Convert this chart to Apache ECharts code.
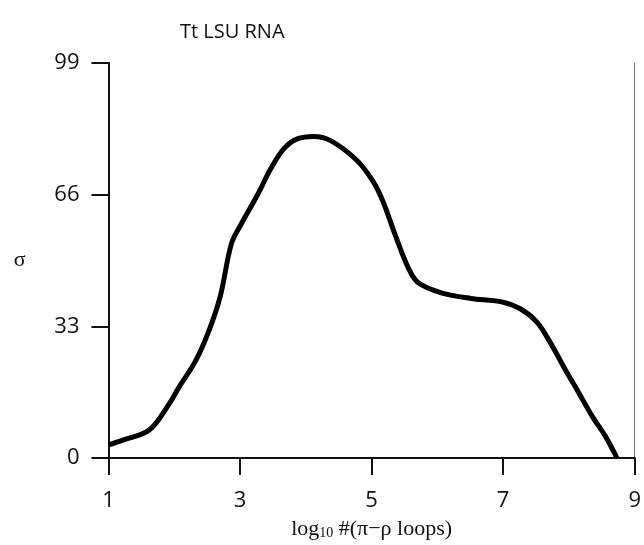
<!DOCTYPE html>
<html>
<head>
<meta charset="utf-8">
<script src="https://cdn.jsdelivr.net/npm/echarts@6/dist/echarts.min.js"></script>
<style>
  html, body { margin: 0; padding: 0; background: #fff; }
  #chart { width: 644px; height: 545px; }
</style>
</head>
<body>
<div id="chart"></div>
<script>
// log10 #(pi-rho loops) against sigma
var loopsLog = [1.0, 1.22, 1.62, 1.92, 2.07, 2.32, 2.52, 2.70, 2.87, 3.02, 3.27, 3.47, 3.67, 3.87, 4.12, 4.37, 4.77, 5.02, 5.17, 5.37, 5.56, 5.71, 6.06, 6.51, 6.96, 7.26, 7.51, 7.71, 7.96, 8.11, 8.36, 8.56, 8.73];
var sigma = [3.3, 4.5, 7.0, 13.5, 17.7, 24.2, 31.6, 40.6, 53.8, 58.7, 66.1, 72.6, 77.6, 80.0, 80.6, 79.6, 74.7, 69.4, 64.4, 55.4, 47.6, 43.9, 41.4, 40.0, 39.2, 37.4, 34.1, 29.1, 21.7, 17.5, 10.3, 5.3, 0];
var xTicks = [1, 3, 5, 7, 9];
var yTicks = [0, 33, 66, 99];

var points = loopsLog.map(function (x, i) { return [x, sigma[i]]; });

var chart = echarts.init(document.getElementById("chart"));
var sans = "'Open Sans', 'Noto Sans', sans-serif";
var serif = "'Liberation Serif', 'DejaVu Serif', serif";

var option = {
  animation: false,
  backgroundColor: "#fff",
  title: {
    text: "Tt LSU RNA",
    left: 175,
    top: 17,
    textStyle: { fontFamily: sans, fontSize: 20, fontWeight: "normal", color: "#111" }
  },
  grid: { left: 108.5, right: 1.5, top: 63, bottom: 80 },
  xAxis: [
    {
      type: "value",
      min: 1,
      max: 9,
      axisLine: { lineStyle: { color: "#111", width: 2 } },
      axisTick: { show: true, length: 17, customValues: xTicks, lineStyle: { color: "#111", width: 2 } },
      axisLabel: { customValues: xTicks, margin: 32, fontFamily: sans, fontSize: 22, color: "#111" },
      splitLine: { show: false },
      name: "log{sub|10} #(π−ρ loops)",
      nameLocation: "middle",
      nameGap: 60,
      nameTextStyle: {
        fontFamily: serif, fontSize: 22, color: "#111",
        rich: { sub: { fontFamily: serif, fontSize: 14, color: "#111", padding: [8, 0, 0, 0] } }
      }
    },
    {
      type: "value",
      position: "top",
      min: 1,
      max: 9,
      axisLine: { lineStyle: { color: "#111", width: 2 } },
      axisTick: { show: false },
      axisLabel: { show: false },
      splitLine: { show: false }
    }
  ],
  yAxis: [
    {
      type: "value",
      min: 0,
      max: 99,
      interval: 33,
      axisLine: { show: true, lineStyle: { color: "#111", width: 2 } },
      axisTick: { show: true, length: 17, lineStyle: { color: "#111", width: 2 } },
      axisLabel: { margin: 29, fontFamily: sans, fontSize: 22, color: "#111" },
      splitLine: { show: false },
      name: "σ",
      nameLocation: "middle",
      nameRotate: 0,
      nameGap: 83,
      nameTextStyle: { fontFamily: serif, fontSize: 22, color: "#111", padding: [0, 0, 36, 0] }
    },
    {
      type: "value",
      position: "right",
      min: 0,
      max: 99,
      axisLine: { show: true, lineStyle: { color: "#777", width: 1 } },
      axisTick: { show: false },
      axisLabel: { show: false },
      splitLine: { show: false }
    }
  ],
  series: [
    {
      type: "line",
      data: points,
      smooth: 0.35,
      showSymbol: false,
      lineStyle: { color: "#000", width: 5 }
    }
  ]
};
chart.setOption(option);
</script>
</body>
</html>
